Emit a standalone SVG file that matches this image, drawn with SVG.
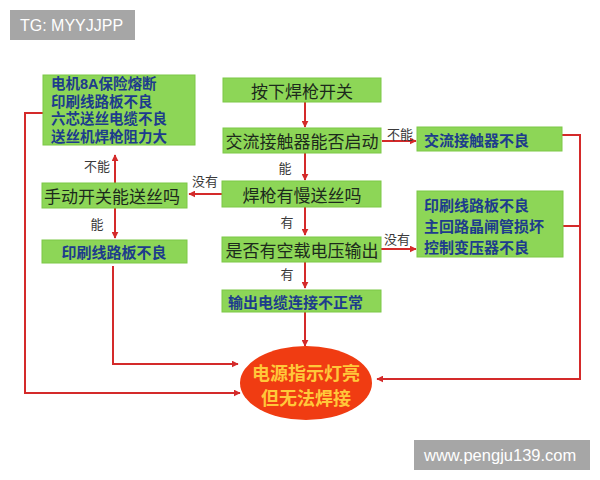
<svg xmlns="http://www.w3.org/2000/svg" width="600" height="480" viewBox="0 0 600 480">
<defs>
<marker id="ah" viewBox="0 0 10 10" refX="9" refY="5" markerWidth="7" markerHeight="7" markerUnits="userSpaceOnUse" orient="auto">
<path d="M0,0 L10,5 L0,10 z" fill="#d42a2a"/>
</marker>
<style>
.box{fill:#8dd657;stroke:#7cc847;stroke-width:1}
.t{font-family:"Noto Sans CJK SC",sans-serif;font-size:17px;fill:#1c2a1c;text-anchor:middle;dominant-baseline:central}
.b{font-family:"Noto Sans CJK SC",sans-serif;font-size:15px;font-weight:bold;fill:#1d3c8c;dominant-baseline:central}
.b4{font-family:"Liberation Sans","Noto Sans CJK SC",sans-serif;font-size:14.5px;font-weight:bold;fill:#1d3c8c;dominant-baseline:central}
.lbl{font-family:"Noto Sans CJK SC",sans-serif;font-size:13px;fill:#3a3a3a;text-anchor:middle;dominant-baseline:central}
.c{fill:none;stroke:#d42a2a;stroke-width:2}
.badge{fill:#a6a6a6}
.bt{font-family:"Liberation Sans",Arial,sans-serif;font-size:16px;fill:#fff}
.e{font-family:"Noto Sans CJK SC",sans-serif;font-size:18px;font-weight:bold;fill:#ffc83a;text-anchor:middle;dominant-baseline:central}
</style>
</defs>
<rect width="600" height="480" fill="#fff"/>
<g id="badge-top"><rect class="badge" x="10" y="10" width="125" height="30"/><text class="bt" x="20" y="31">TG: MYYJJPP</text></g>
<g id="badge-bottom"><rect class="badge" x="414" y="440" width="176" height="30"/><text class="bt" x="424" y="461" style="font-size:16.5px">www.pengju139.com</text></g>

<g id="connectors">
<path class="c" d="M305,101 V127" marker-end="url(#ah)"/>
<path class="c" d="M305,153 V180" marker-end="url(#ah)"/>
<path class="c" d="M382,141 H416" marker-end="url(#ah)"/>
<path class="c" d="M222,194 H189" marker-end="url(#ah)"/>
<path class="c" d="M305,207 V235" marker-end="url(#ah)"/>
<path class="c" d="M381,249 H416" marker-end="url(#ah)"/>
<path class="c" d="M305,262 V288" marker-end="url(#ah)"/>
<path class="c" d="M305,312 V346" marker-end="url(#ah)"/>
<path class="c" d="M115,183 V155" marker-end="url(#ah)"/>
<path class="c" d="M115,208 V238" marker-end="url(#ah)"/>
<path class="c" d="M113,266 V364 H238" marker-end="url(#ah)"/>
<path class="c" d="M43,113 H25 V393 H240" marker-end="url(#ah)"/>
<path class="c" d="M562,135 H580 V379 H377" marker-end="url(#ah)"/>
<path class="c" d="M563,226 H580"/>
<text class="lbl" x="285" y="167">能</text>
<text class="lbl" x="400" y="133">不能</text>
<text class="lbl" x="205" y="180">没有</text>
<text class="lbl" x="287" y="221">有</text>
<text class="lbl" x="397" y="238">没有</text>
<text class="lbl" x="287" y="273">有</text>
<text class="lbl" x="97" y="165">不能</text>
<text class="lbl" x="97" y="223">能</text>
</g>

<g id="n-press"><rect class="box" x="223" y="78" width="158" height="24"/><text class="t" x="302" y="90">按下焊枪开关</text></g>
<g id="n-contactor"><rect class="box" x="223" y="128" width="158" height="25"/><text class="t" x="302" y="140.5">交流接触器能否启动</text></g>
<g id="n-slowfeed"><rect class="box" x="222" y="181" width="159" height="26"/><text class="t" x="302" y="194">焊枪有慢送丝吗</text></g>
<g id="n-voltage"><rect class="box" x="222" y="237" width="159" height="25"/><text class="t" x="302" y="249.5">是否有空载电压输出</text></g>
<g id="n-cable"><rect class="box" x="222" y="290" width="159" height="22"/><text class="b" x="228" y="301">输出电缆连接不正常</text></g>
<g id="n-contactor-bad"><rect class="box" x="417" y="127" width="145" height="24"/><text class="b" x="424" y="139">交流接触器不良</text></g>
<g id="n-right-faults"><rect class="box" x="417" y="191" width="146" height="66"/>
<text class="b" x="424" y="204"><tspan x="424" y="204">印刷线路板不良</tspan><tspan x="424" y="225">主回路晶闸管损坏</tspan><tspan x="424" y="246">控制变压器不良</tspan></text></g>
<g id="n-left-faults"><rect class="box" x="43" y="75" width="152" height="70"/>
<text class="b4" x="51" y="84"><tspan x="51" y="84">电机8A保险熔断</tspan><tspan x="51" y="101.5">印刷线路板不良</tspan><tspan x="51" y="119">六芯送丝电缆不良</tspan><tspan x="51" y="136.5">送丝机焊枪阻力大</tspan></text></g>
<g id="n-manual"><rect class="box" x="42" y="183" width="145" height="25"/><text class="t" x="112" y="195.5">手动开关能送丝吗</text></g>
<g id="n-pcb-left"><rect class="box" x="42" y="240" width="145" height="23"/><text class="b" x="114" y="251.5" style="text-anchor:middle">印刷线路板不良</text></g>
<g id="n-result"><ellipse cx="306" cy="383" rx="66" ry="37" fill="#f03c12"/>
<text class="e" x="306" y="372"><tspan x="306" y="372">电源指示灯亮</tspan><tspan x="306" y="397">但无法焊接</tspan></text></g>
</svg>
